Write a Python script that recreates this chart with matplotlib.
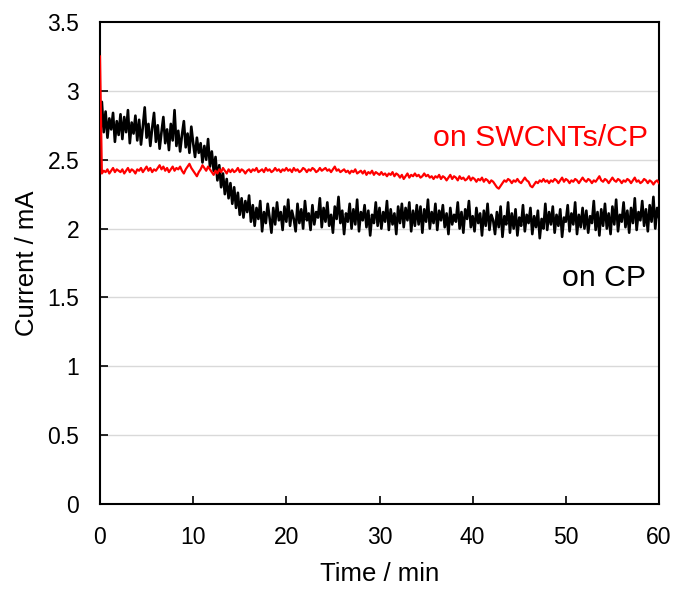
import numpy as np
import matplotlib
matplotlib.use("Agg")
import matplotlib.pyplot as plt

plt.rcParams['font.family'] = ['Liberation Sans', 'DejaVu Sans']

# time axis (min), sampled every 0.2 min
time_min = np.round(np.arange(0, 60.0001, 0.2), 2)

# Current on bare carbon paper (mA)
current_cp = [
    2.62, 2.92, 2.70, 2.85, 2.66, 2.80, 2.72, 2.84, 2.63, 2.78, 2.68,
    2.83, 2.65, 2.81, 2.70, 2.86, 2.62, 2.77, 2.69, 2.82, 2.64,
    2.79, 2.61, 2.74, 2.88, 2.66, 2.76, 2.60, 2.73, 2.84, 2.63,
    2.75, 2.58, 2.70, 2.81, 2.62, 2.72, 2.57, 2.76, 2.64, 2.86,
    2.60, 2.71, 2.56, 2.68, 2.78, 2.59, 2.69, 2.55, 2.74, 2.62,
    2.52, 2.66, 2.55, 2.62, 2.48, 2.60, 2.50, 2.65, 2.45, 2.56,
    2.42, 2.52, 2.35, 2.46, 2.30, 2.40, 2.25, 2.36, 2.22, 2.33,
    2.18, 2.30, 2.15, 2.26, 2.10, 2.22, 2.08, 2.20, 2.12, 2.24,
    2.05, 2.17, 2.02, 2.15, 2.07, 2.20, 1.98, 2.12, 2.04, 2.18,
    2.08, 1.97, 2.15, 2.03, 2.19, 2.06, 2.12, 1.99, 2.16, 2.05,
    2.21, 2.02, 2.13, 2.07, 1.98, 2.18, 2.04, 2.14, 2.00, 2.20,
    2.06, 2.11, 1.99, 2.17, 2.03, 2.12, 2.08, 2.22, 2.01, 2.15,
    2.05, 2.19, 2.02, 2.10, 1.97, 2.16, 2.07, 2.23, 2.04, 2.13,
    1.96, 2.11, 2.05, 2.18, 2.00, 2.14, 2.03, 2.21, 1.98, 2.12,
    2.06, 2.17, 2.01, 2.13, 1.95, 2.10, 2.04, 2.19, 2.02, 2.15,
    2.00, 2.12, 2.05, 2.20, 1.99, 2.14, 2.03, 2.11, 1.96, 2.16,
    2.04, 2.18, 2.01, 2.15, 2.06, 2.19, 1.98, 2.13, 2.02, 2.17,
    2.03, 2.16, 1.97, 2.14, 2.05, 2.21, 2.00, 2.12, 2.04, 2.18,
    1.99, 2.13, 2.06, 2.17, 2.01, 2.11, 1.96, 2.15, 2.03, 2.10,
    2.05, 2.19, 2.00, 2.12, 1.97, 2.14, 2.07, 2.20, 2.01, 2.09,
    1.98, 2.15, 2.04, 2.11, 1.95, 2.13, 2.02, 2.18, 1.99, 2.10,
    2.06, 1.96, 2.12, 2.01, 2.16, 1.94, 2.09, 2.03, 2.19, 1.97,
    2.11, 2.00, 2.14, 1.95, 2.08, 2.02, 2.17, 1.98, 2.10, 2.04,
    2.15, 1.96, 2.09, 2.01, 2.13, 1.93, 2.07, 2.00, 2.18, 1.99,
    2.12, 2.03, 2.16, 1.97, 2.10, 2.02, 2.14, 1.94, 2.08, 2.05,
    2.17, 1.98, 2.11, 2.03, 2.19, 1.96, 2.10, 2.01, 2.15, 2.00,
    2.13, 1.97, 2.09, 2.04, 2.20, 1.99, 2.12, 1.95, 2.14, 2.02,
    2.18, 2.00, 2.11, 1.96, 2.16, 2.03, 2.21, 1.98, 2.10, 2.05,
    2.19, 2.01, 2.13, 1.97, 2.15, 2.04, 2.22, 1.99, 2.12, 2.06,
    2.20, 2.02, 2.14, 1.98, 2.17, 2.05, 2.23, 2.00, 2.15, 2.08,
]

# Current on SWCNTs/CP (mA)
current_swcnt = [
    3.25, 2.40, 2.42, 2.41, 2.43, 2.40, 2.42, 2.44, 2.41, 2.43, 2.42,
    2.41, 2.43, 2.40, 2.42, 2.44, 2.41, 2.43, 2.42, 2.40, 2.43,
    2.42, 2.44, 2.41, 2.43, 2.45, 2.42, 2.44, 2.41, 2.43, 2.42,
    2.44, 2.46, 2.43, 2.45, 2.42, 2.44, 2.41, 2.43, 2.45, 2.42,
    2.44, 2.43, 2.45, 2.42, 2.40, 2.43, 2.45, 2.47, 2.44, 2.42,
    2.40, 2.38, 2.41, 2.43, 2.46, 2.44, 2.42, 2.45, 2.43, 2.41,
    2.39, 2.42, 2.40, 2.43, 2.41, 2.44, 2.42, 2.40, 2.43, 2.41,
    2.43, 2.41, 2.42, 2.44, 2.41, 2.43, 2.42, 2.40, 2.42, 2.43,
    2.41, 2.43, 2.42, 2.44, 2.41, 2.42, 2.43, 2.41, 2.44, 2.42,
    2.43, 2.41, 2.42, 2.44, 2.42, 2.43, 2.41, 2.43, 2.42, 2.44,
    2.42, 2.43, 2.41, 2.44, 2.42, 2.43, 2.41, 2.42, 2.44, 2.43,
    2.41, 2.43, 2.42, 2.44, 2.43, 2.41, 2.42, 2.44, 2.42, 2.43,
    2.44, 2.42, 2.43, 2.41, 2.43, 2.45, 2.42, 2.43, 2.41, 2.42,
    2.43, 2.41, 2.42, 2.40, 2.42, 2.41, 2.43, 2.40, 2.41, 2.42,
    2.40, 2.42, 2.39, 2.41, 2.40, 2.42, 2.39, 2.41, 2.40, 2.39,
    2.41, 2.39, 2.40, 2.38, 2.40, 2.39, 2.41, 2.38, 2.40, 2.39,
    2.37, 2.39, 2.36, 2.38, 2.40, 2.37, 2.39, 2.38, 2.40, 2.38,
    2.39, 2.37, 2.38, 2.40, 2.38, 2.39, 2.37, 2.38, 2.36, 2.38,
    2.37, 2.39, 2.36, 2.38, 2.37, 2.35, 2.37, 2.39, 2.36, 2.38,
    2.37, 2.35, 2.38, 2.36, 2.37, 2.35, 2.36, 2.38, 2.35, 2.37,
    2.36, 2.34, 2.36, 2.35, 2.37, 2.34, 2.36, 2.35, 2.33, 2.35,
    2.34, 2.32, 2.30, 2.29, 2.31, 2.33, 2.35, 2.34, 2.36, 2.35,
    2.33, 2.35, 2.34, 2.36, 2.34, 2.33, 2.35, 2.37, 2.35, 2.34,
    2.31, 2.30, 2.32, 2.34, 2.33, 2.35, 2.34, 2.36, 2.34, 2.35,
    2.33, 2.35, 2.34, 2.36, 2.35, 2.33, 2.35, 2.37, 2.34, 2.36,
    2.35, 2.33, 2.35, 2.34, 2.36, 2.35, 2.33, 2.35, 2.37, 2.35,
    2.34, 2.36, 2.35, 2.33, 2.35, 2.34, 2.36, 2.38, 2.35, 2.34,
    2.36, 2.35, 2.33, 2.35, 2.37, 2.35, 2.34, 2.36, 2.35, 2.33,
    2.35, 2.34, 2.36, 2.35, 2.33, 2.35, 2.37, 2.34, 2.35, 2.33,
    2.34, 2.36, 2.35, 2.33, 2.35, 2.34, 2.32, 2.34, 2.35, 2.33,
]

x_ticks = [0, 10, 20, 30, 40, 50, 60]
y_ticks = [0, 0.5, 1, 1.5, 2, 2.5, 3, 3.5]
y_tick_labels = ["0", "0.5", "1", "1.5", "2", "2.5", "3", "3.5"]

fig = plt.figure(figsize=(6.75, 5.89), dpi=100)
ax = fig.add_axes([100 / 675, (589 - 504) / 589, 559 / 675, 482 / 589])

for yv in y_ticks[1:-1]:
    ax.axhline(yv, color="#d9d9d9", lw=1.0, zorder=0)

ax.plot(time_min, current_cp, color="black", lw=1.9, zorder=2)
ax.plot(time_min, current_swcnt, color="#ff0000", lw=1.6, zorder=3)

ax.set_xlim(0, 60)
ax.set_ylim(0, 3.5)
ax.set_xticks(x_ticks)
ax.set_yticks(y_ticks)
ax.set_yticklabels(y_tick_labels)
ax.tick_params(axis="x", direction="in", length=6, width=1.2, pad=16, labelsize=16.5)
ax.tick_params(axis="y", direction="in", length=6, width=1.2, pad=15, labelsize=16.5)
for s in ax.spines.values():
    s.set_linewidth(1.5)
    s.set_color("black")

ax.set_xlabel("Time / min", fontsize=18.5, labelpad=9)
ax.set_ylabel("Current / mA", fontsize=18.5, labelpad=6)

ax.text(58.8, 2.658, "on SWCNTs/CP", color="#ff0000", fontsize=21.8, ha="right", va="center")
ax.text(58.6, 1.641, "on CP", color="black", fontsize=21.8, ha="right", va="center")

fig.savefig("out.png", dpi=100)
